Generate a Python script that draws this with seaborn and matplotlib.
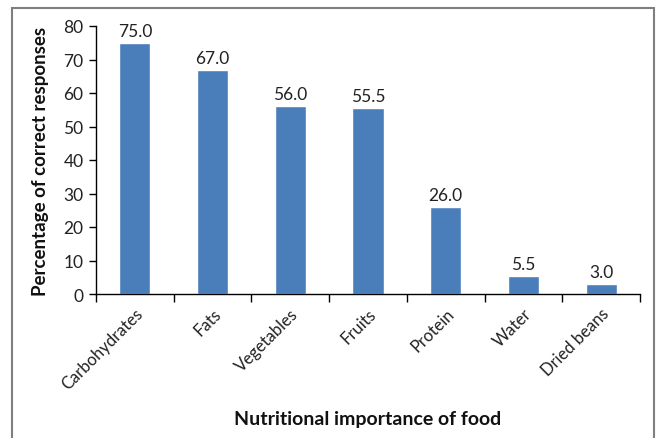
import matplotlib
matplotlib.use("Agg")
import matplotlib.pyplot as plt
import seaborn as sns
import pandas as pd
from matplotlib.patches import Rectangle

categories = ["Carbohydrates", "Fats", "Vegetables", "Fruits", "Protein", "Water", "Dried beans"]
values = [75.0, 67.0, 56.0, 55.5, 26.0, 5.5, 3.0]
y_ticks = [0, 10, 20, 30, 40, 50, 60, 70, 80]

df = pd.DataFrame({"food": categories, "pct": values})

sns.set_theme(style="white")
plt.rcParams["font.family"] = ["Lato", "DejaVu Sans"]

fig = plt.figure(figsize=(6.6, 4.39), dpi=100)
ax = fig.add_axes([96 / 660, 1 - 295 / 439, 544 / 660, 268 / 439])

sns.barplot(data=df, x="food", y="pct", color="#4a7ebb", saturation=1,
            width=0.40, ax=ax)

ax.set_ylim(0, 80)
ax.set_xlim(-0.5, len(categories) - 0.5)
ax.set_yticks(y_ticks)
ax.set_yticklabels([str(t) for t in y_ticks], fontsize=12.5, color="#222222")

# labels at category centres, tick marks on category boundaries
ax.set_xticks(range(len(categories)))
ax.set_xticklabels(categories, rotation=45, ha="right", rotation_mode="anchor",
                   fontsize=12, color="#222222")
ax.tick_params(axis="x", which="major", length=0, pad=8)
ax.set_xticks([i - 0.5 for i in range(len(categories) + 1)], minor=True)
ax.tick_params(axis="x", which="minor", bottom=True, length=6, width=1, color="black")
ax.tick_params(axis="y", left=True, length=5, width=1, color="black", pad=4)

for spine in ["top", "right"]:
    ax.spines[spine].set_visible(False)
for spine in ["left", "bottom"]:
    ax.spines[spine].set_color("black")
    ax.spines[spine].set_linewidth(1)

for i, v in enumerate(values):
    ax.text(i, v + 1.2, f"{v:.1f}", ha="center", va="bottom", fontsize=12.5, color="#222222")

ax.set_xlabel("")
ax.set_ylabel("Percentage of correct responses", fontsize=13.5, fontweight="bold",
              color="#111111", labelpad=10)
fig.text(368 / 660, 1 - 420 / 439, "Nutritional importance of food", ha="center",
         va="center", fontsize=14, fontweight="bold", color="#111111")

# outer chart frame
fig.patches.append(Rectangle((12 / 660, -0.05), 642 / 660, 1 - 9 / 439 + 0.05,
                             transform=fig.transFigure, fill=False,
                             edgecolor="#7f7f7f", linewidth=1.5))

fig.savefig("out.png", dpi=100)
